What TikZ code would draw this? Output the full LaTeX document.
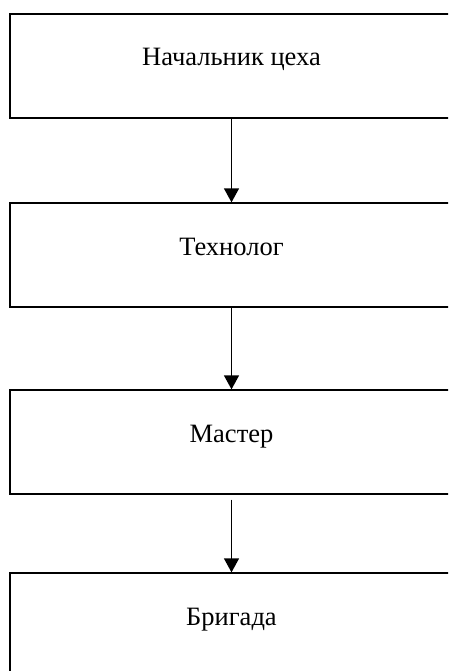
\documentclass[tikz,border=0pt]{standalone}
\usepackage{fontspec}
\setmainfont{Liberation Serif}
\usetikzlibrary{arrows.meta}
\begin{document}
\begin{tikzpicture}[x=1pt,y=-1pt,
  orgbox/.style={draw, line width=1.3pt, rectangle, minimum width=443pt, minimum height=104pt,
    text height=0pt, text depth=0pt, inner sep=0pt, font=\fontsize{26.5}{30}\selectfont},
  link/.style={line width=1.3pt, -{Triangle[length=14pt,width=15pt]}}]
\clip (0,0) rectangle (448,671);
\fill[white] (0,0) rectangle (448,671);
\node[orgbox] (a) at (231.5,66) {Начальник цеха};
\node[orgbox] (b) at (231.5,255) {Технолог};
\node[orgbox] (c) at (231.5,442) {Мастер};
\node[orgbox] (d) at (231.5,625) {Бригада};
\draw[link] (a.south) -- (b.north);
\draw[link] (b.south) -- (c.north);
\draw[link] ([yshift=-5pt]c.south) -- (d.north);
\end{tikzpicture}
\end{document}
